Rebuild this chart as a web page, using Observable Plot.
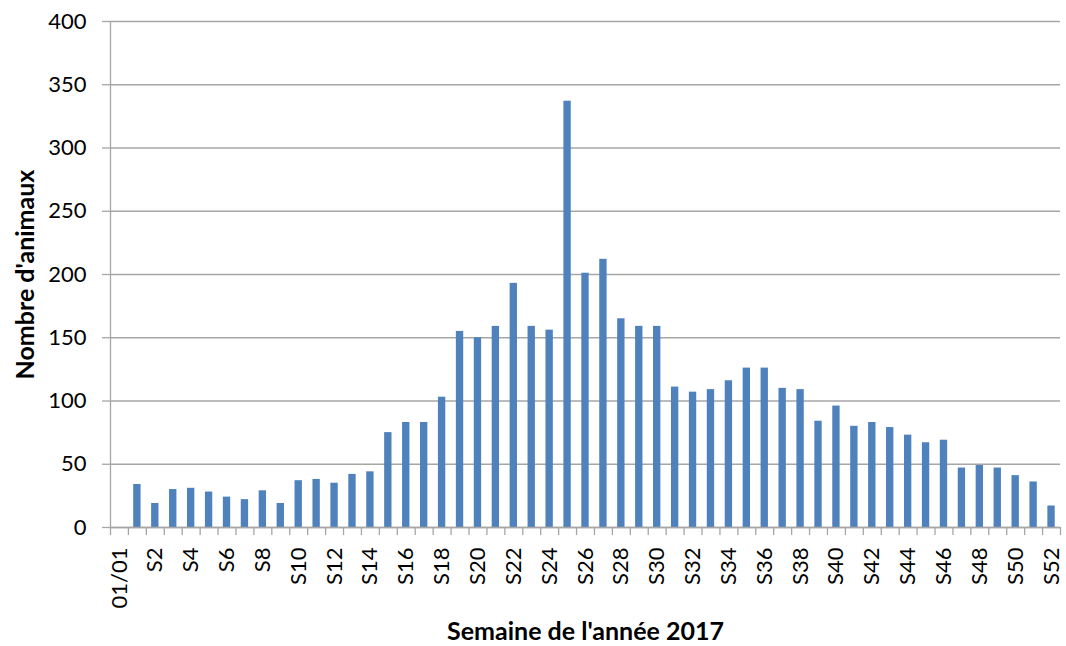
<!DOCTYPE html>
<html>
<head>
<meta charset="utf-8">
<script src="https://cdn.jsdelivr.net/npm/d3@7"></script>
<script src="https://cdn.jsdelivr.net/npm/@observablehq/plot@0.6"></script>
<style>
  html, body { margin: 0; padding: 0; background: #fff; }
  #chart { width: 1066px; height: 646px; }
</style>
</head>
<body>
<div id="chart"></div>
<script>
const weeks = ["01/01"].concat(d3.range(1, 53).map(i => "S" + i));
const counts = [0,
  34, 19, 30, 31, 28, 24, 22, 29, 19, 37,
  38, 35, 42, 44, 75, 83, 83, 103, 155, 150,
  159, 193, 159, 156, 337, 201, 212, 165, 159, 159,
  111, 107, 109, 116, 126, 126, 110, 109, 84, 96,
  80, 83, 79, 73, 67, 69, 47, 49, 47, 41,
  36, 17];
const yTicks = [0, 50, 100, 150, 200, 250, 300, 350, 400];
const xTitle = "Semaine de l'année 2017";
const yTitle = "Nombre d'animaux";

const data = weeks.map((w, i) => ({week: w, count: counts[i]}));
const labelled = weeks.filter((d, i) => i % 2 === 0);

const W = 1066, H = 646;
const mL = 110, mR = 6, mT = 21, mB = 119;
const step = (W - mL - mR) / weeks.length;
const grey = "#a6a6a6";

const chart = Plot.plot({
  width: W, height: H,
  marginLeft: mL, marginRight: mR, marginTop: mT, marginBottom: mB,
  style: {fontFamily: "Lato, 'Open Sans', sans-serif", fontSize: "22px", color: "#000", background: "#fff"},
  x: {type: "band", domain: weeks, paddingInner: 0.59, paddingOuter: 0.295},
  y: {domain: [0, 400]},
  marks: [
    Plot.gridY(yTicks, {stroke: grey, strokeOpacity: 1, strokeWidth: 1.3}),
    Plot.axisY(yTicks, {tickSize: 8, tickPadding: 16, stroke: grey, strokeWidth: 1.3, label: null, fontSize: 22}),
    Plot.ruleX([0], {x: () => weeks[0], dx: -step / 2, stroke: grey, strokeWidth: 1.3}),
    Plot.barY(data, {x: "week", y: "count", fill: "#4f81bd"}),
    Plot.ruleY([0], {stroke: grey, strokeWidth: 1.3}),
    Plot.axisX(weeks, {tickSize: 8, tickFormat: () => "", dx: -step / 2, stroke: grey, strokeWidth: 1.3, label: null}),
    Plot.axisX([weeks[weeks.length - 1]], {tickSize: 8, tickFormat: () => "", dx: step / 2, stroke: grey, strokeWidth: 1.3, label: null}),
    Plot.axisX(labelled, {tickSize: 0, tickPadding: 20, tickRotate: -90, label: null, fontSize: 22}),
    Plot.text([xTitle], {frameAnchor: "bottom", dy: 112, text: d => d, fontWeight: "bold", fontSize: 25}),
    Plot.text([yTitle], {frameAnchor: "left", textAnchor: "middle", dx: -85, rotate: -90, text: d => d, fontWeight: "bold", fontSize: 25})
  ]
});
document.getElementById("chart").appendChild(chart);
</script>
</body>
</html>
